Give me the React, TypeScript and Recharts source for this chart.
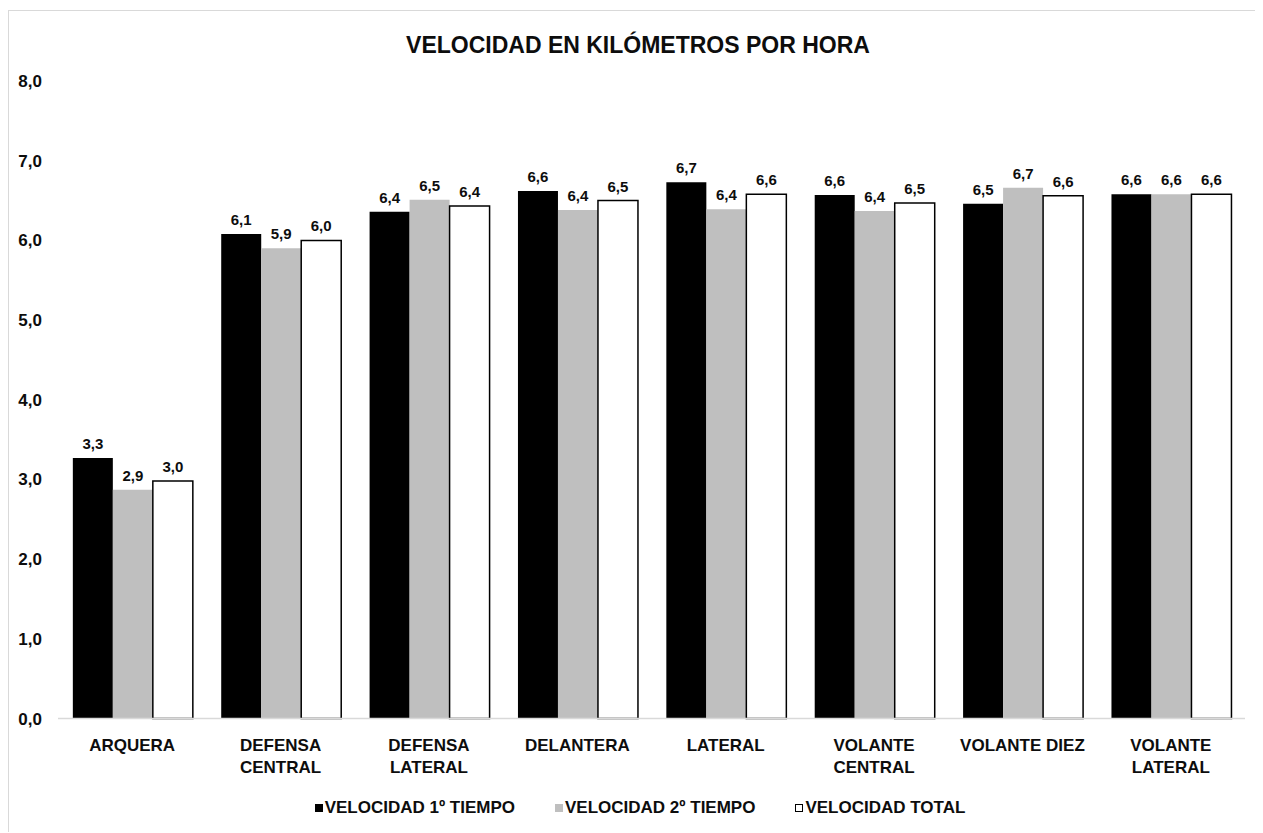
import React from 'react';
import { BarChart, Bar, XAxis, YAxis, Legend, LabelList } from 'recharts';

const categories = [
  'ARQUERA',
  'DEFENSA CENTRAL',
  'DEFENSA LATERAL',
  'DELANTERA',
  'LATERAL',
  'VOLANTE CENTRAL',
  'VOLANTE DIEZ',
  'VOLANTE LATERAL',
];
const velocidad1 = [3.27, 6.08, 6.36, 6.62, 6.73, 6.57, 6.46, 6.58];
const velocidad2 = [2.87, 5.9, 6.51, 6.38, 6.39, 6.37, 6.66, 6.58];
const velocidadTotal = [2.98, 6.0, 6.43, 6.5, 6.58, 6.47, 6.56, 6.58];
const yTicks = [0, 1, 2, 3, 4, 5, 6, 7, 8];
const seriesNames = ['VELOCIDAD 1º TIEMPO', 'VELOCIDAD 2º TIEMPO', 'VELOCIDAD TOTAL'];
const title = 'VELOCIDAD EN KILÓMETROS POR HORA';

const data = categories.map((c, i) => ({
  name: c,
  v1: velocidad1[i],
  v2: velocidad2[i],
  vt: velocidadTotal[i],
}));

const FONT = '"Liberation Sans", Arial, sans-serif';
const fmt = (v: number) => Number(v).toFixed(1).replace('.', ',');

const CategoryTick = (props: any) => {
  const { x, y, payload } = props;
  const label: string = payload.value;
  let lines = [label];
  if (label.length > 12 && label.indexOf(' ') > 0) {
    const idx = label.indexOf(' ');
    lines = [label.slice(0, idx), label.slice(idx + 1)];
  }
  return (
    <text
      x={x}
      y={y}
      textAnchor="middle"
      fontFamily={FONT}
      fontWeight="bold"
      fontSize={17}
      fill="#0d0d0d"
    >
      {lines.map((l, i) => (
        <tspan key={i} x={x} y={y + 32.5 + i * 22}>
          {l}
        </tspan>
      ))}
    </text>
  );
};

const legendItems = [
  { name: seriesNames[0], fill: '#000000', stroke: 'none' },
  { name: seriesNames[1], fill: '#bfbfbf', stroke: 'none' },
  { name: seriesNames[2], fill: '#ffffff', stroke: '#000000' },
];

const LegendContent = () => (
  <div
    style={{
      height: 40,
      width: 1254,
      display: 'flex',
      justifyContent: 'center',
      alignItems: 'flex-start',
      paddingTop: 20,
      boxSizing: 'border-box',
      paddingLeft: 8,
      fontFamily: FONT,
      fontWeight: 'bold',
      fontSize: 17,
      lineHeight: '18px',
      color: '#0d0d0d',
    }}
  >
    {legendItems.map((it, i) => (
      <div
        key={i}
        style={{ display: 'flex', alignItems: 'center', marginLeft: i === 0 ? 0 : 40 }}
      >
        <div
          style={{
            width: it.stroke === 'none' ? 8 : 6,
            height: it.stroke === 'none' ? 8 : 6,
            background: it.fill,
            border: it.stroke === 'none' ? 'none' : `1px solid ${it.stroke}`,
            marginRight: 2,
          }}
        />
        <span>{it.name}</span>
      </div>
    ))}
  </div>
);

export default function App() {
  return (
    <div
      style={{
        position: 'relative',
        top: 2,
        width: 1255,
        height: 823,
        borderLeft: '1px solid #d9d9d9',
        borderTop: '1px solid #d9d9d9',
        background: '#ffffff',
      }}
    >
      <div
        style={{
          position: 'absolute',
          left: 0,
          width: 1258,
          top: 20,
          textAlign: 'center',
          fontFamily: FONT,
          fontWeight: 'bold',
          fontSize: 23,
          lineHeight: '28px',
          color: '#0d0d0d',
        }}
      >
        {title}
      </div>
      <BarChart
        width={1254}
        height={821}
        data={data}
        margin={{ top: 70, right: 18, left: 0, bottom: 13.5 }}
        barCategoryGap="10%"
        barGap={0}
      >
        <XAxis
          dataKey="name"
          interval={0}
          tickLine={false}
          tickSize={0}
          tickMargin={0}
          height={60}
          axisLine={{ stroke: '#d9d9d9', strokeWidth: 1.5 }}
          tick={<CategoryTick />}
        />
        <YAxis
          domain={[0, 8]}
          ticks={yTicks}
          interval={0}
          width={49}
          axisLine={false}
          tickLine={false}
          tickSize={0}
          tickMargin={16}
          tickFormatter={fmt}
          tick={{ fontFamily: FONT, fontWeight: 'bold', fontSize: 17, fill: '#0d0d0d' }}
        />
        <Legend
          verticalAlign="bottom"
          align="center"
          height={40}
          wrapperStyle={{ left: 0, width: 1254 }}
          content={<LegendContent />}
        />
        <Bar dataKey="v1" name={seriesNames[0]} fill="#000000" isAnimationActive={false}>
          <LabelList
            dataKey="v1"
            position="top"
            offset={9}
            formatter={fmt}
            style={{ fontFamily: FONT, fontWeight: 'bold', fontSize: 15, fill: '#0d0d0d' }}
          />
        </Bar>
        <Bar dataKey="v2" name={seriesNames[1]} fill="#bfbfbf" isAnimationActive={false}>
          <LabelList
            dataKey="v2"
            position="top"
            offset={9}
            formatter={fmt}
            style={{ fontFamily: FONT, fontWeight: 'bold', fontSize: 15, fill: '#0d0d0d' }}
          />
        </Bar>
        <Bar
          dataKey="vt"
          name={seriesNames[2]}
          fill="#ffffff"
          stroke="#000000"
          strokeWidth={1.5}
          isAnimationActive={false}
        >
          <LabelList
            dataKey="vt"
            position="top"
            offset={9}
            formatter={fmt}
            style={{ fontFamily: FONT, fontWeight: 'bold', fontSize: 15, fill: '#0d0d0d' }}
          />
        </Bar>
      </BarChart>
    </div>
  );
}
